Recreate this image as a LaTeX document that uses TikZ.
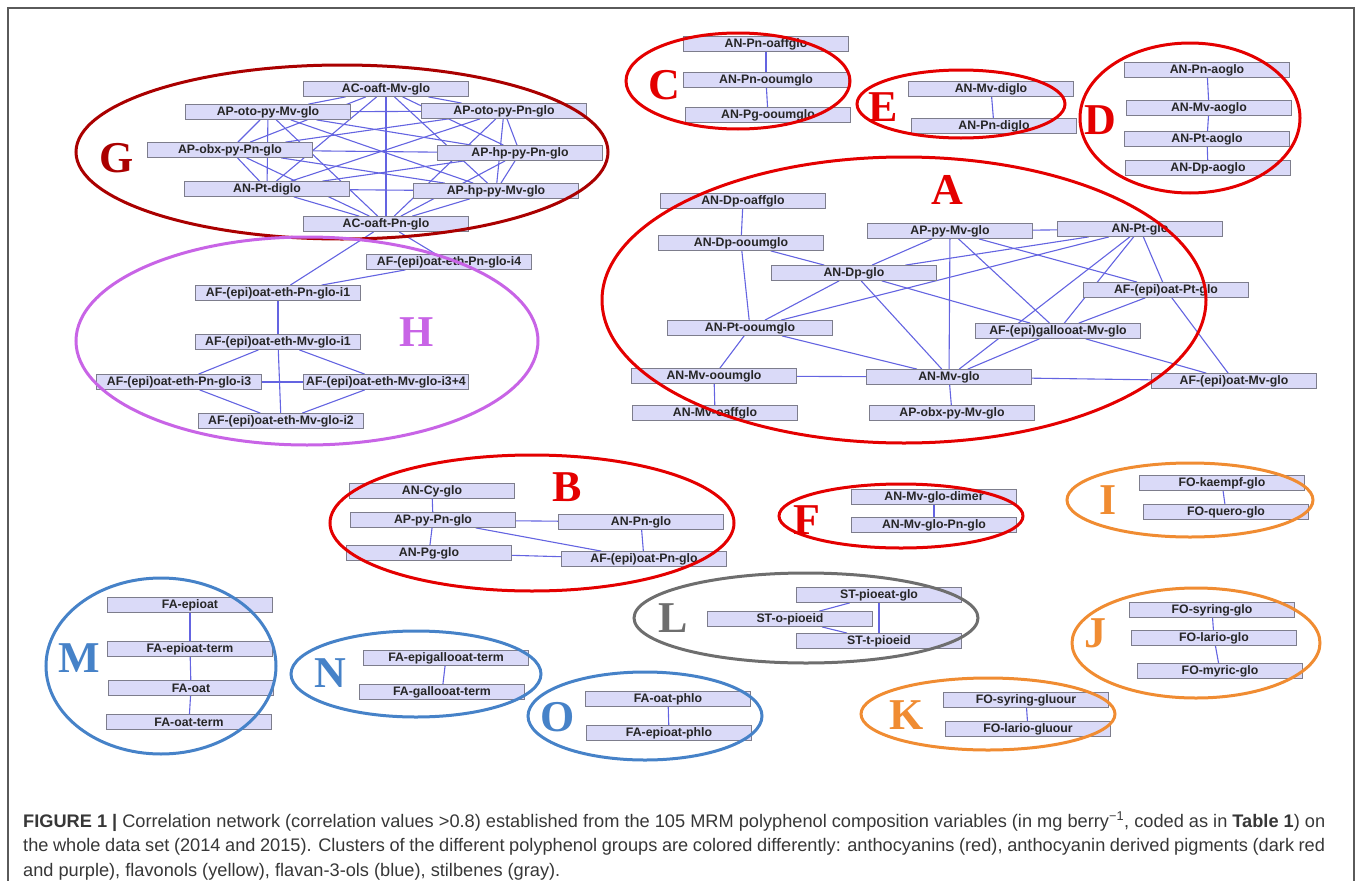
\documentclass[tikz,border=0pt]{standalone}
\usepackage{fontspec}
\setmainfont{Liberation Sans}
\newfontfamily\letterfont{Liberation Serif}
\pgfdeclarelayer{edgelayer}
\pgfsetlayers{edgelayer,main}
\definecolor{lav}{RGB}{218,218,248}
\definecolor{boxline}{RGB}{125,125,140}
\definecolor{edgec}{RGB}{100,100,225}
\definecolor{redc}{RGB}{228,0,0}
\definecolor{dred}{RGB}{170,0,0}
\definecolor{purp}{RGB}{200,100,230}
\definecolor{orng}{RGB}{240,140,50}
\definecolor{blu}{RGB}{70,130,200}
\definecolor{gry}{RGB}{110,110,110}
\definecolor{framec}{RGB}{90,90,90}
\definecolor{captc}{RGB}{55,55,55}
\begin{document}
\begin{tikzpicture}[x=1pt,y=-1pt,
  vbox/.style={draw=boxline, line width=0.8pt, fill=lav, minimum width=165pt, minimum height=15pt, inner sep=0pt, text=black!85, font=\fontsize{12.3}{12}\selectfont\bfseries},
  link/.style={draw=edgec, line width=1.1pt},
  ring/.style={line width=3pt},
  tag/.style={font=\letterfont\fontsize{44}{44}\selectfont\bfseries, inner sep=0pt},
  capline/.style={anchor=base west, inner sep=0pt, text=captc, font=\fontsize{18.2}{20}\selectfont}
]
\useasboundingbox (0,0) rectangle (1358,881);
\draw[framec, line width=1.5pt] (8,881) -- (8,8) -- (1354,8) -- (1354,881);

% ---------- G ----------
\node[vbox] (g1) at (386,89) {AC-oaft-Mv-glo};
\node[vbox] (g2) at (268,112) {AP-oto-py-Mv-glo};
\node[vbox] (g3) at (504,111) {AP-oto-py-Pn-glo};
\node[vbox] (g4) at (230,150) {AP-obx-py-Pn-glo};
\node[vbox] (g5) at (520,153) {AP-hp-py-Pn-glo};
\node[vbox] (g6) at (267,189) {AN-Pt-diglo};
\node[vbox] (g7) at (496,191) {AP-hp-py-Mv-glo};
\node[vbox] (g8) at (386,224) {AC-oaft-Pn-glo};
% ---------- H ----------
\node[vbox] (h1) at (449,262) {AF-(epi)oat-eth-Pn-glo-i4};
\node[vbox] (h2) at (278,293) {AF-(epi)oat-eth-Pn-glo-i1};
\node[vbox] (h3) at (278,342) {AF-(epi)oat-eth-Mv-glo-i1};
\node[vbox] (h4) at (179,382) {AF-(epi)oat-eth-Pn-glo-i3};
\node[vbox] (h5) at (386,382) {AF-(epi)oat-eth-Mv-glo-i3+4};
\node[vbox] (h6) at (281,421) {AF-(epi)oat-eth-Mv-glo-i2};
% ---------- C ----------
\node[vbox] (c1) at (766,44) {AN-Pn-oaffglo};
\node[vbox] (c2) at (766,80) {AN-Pn-ooumglo};
\node[vbox] (c3) at (768,115) {AN-Pg-ooumglo};
% ---------- E ----------
\node[vbox] (e1) at (991,89) {AN-Mv-diglo};
\node[vbox] (e2) at (994,126) {AN-Pn-diglo};
% ---------- D ----------
\node[vbox] (d1) at (1207,70) {AN-Pn-aoglo};
\node[vbox] (d2) at (1209,108) {AN-Mv-aoglo};
\node[vbox] (d3) at (1207,139) {AN-Pt-aoglo};
\node[vbox] (d4) at (1208,168) {AN-Dp-aoglo};
% ---------- A ----------
\node[vbox] (a1) at (743,201) {AN-Dp-oaffglo};
\node[vbox] (a2) at (741,243) {AN-Dp-ooumglo};
\node[vbox] (a3) at (950,231) {AP-py-Mv-glo};
\node[vbox] (a4) at (1140,229) {AN-Pt-glo};
\node[vbox] (a5) at (854,273) {AN-Dp-glo};
\node[vbox] (a6) at (1166,290) {AF-(epi)oat-Pt-glo};
\node[vbox] (a7) at (750,328) {AN-Pt-ooumglo};
\node[vbox] (a8) at (1058,331) {AF-(epi)gallooat-Mv-glo};
\node[vbox] (a9) at (714,376) {AN-Mv-ooumglo};
\node[vbox] (a10) at (949,377) {AN-Mv-glo};
\node[vbox] (a11) at (1234,381) {AF-(epi)oat-Mv-glo};
\node[vbox] (a12) at (715,413) {AN-Mv-oaffglo};
\node[vbox] (a13) at (952,413) {AP-obx-py-Mv-glo};
% ---------- B ----------
\node[vbox] (b1) at (432,491) {AN-Cy-glo};
\node[vbox] (b2) at (433,520) {AP-py-Pn-glo};
\node[vbox] (b3) at (641,522) {AN-Pn-glo};
\node[vbox] (b4) at (429,553) {AN-Pg-glo};
\node[vbox] (b5) at (644,559) {AF-(epi)oat-Pn-glo};
% ---------- F ----------
\node[vbox] (f1) at (934,497) {AN-Mv-glo-dimer};
\node[vbox] (f2) at (934,525) {AN-Mv-glo-Pn-glo};
% ---------- L ----------
\node[vbox] (l1) at (879,595) {ST-pioeat-glo};
\node[vbox] (l2) at (790,619) {ST-o-pioeid};
\node[vbox] (l3) at (879,641) {ST-t-pioeid};
% ---------- I ----------
\node[vbox] (i1) at (1222,483) {FO-kaempf-glo};
\node[vbox] (i2) at (1226,512) {FO-quero-glo};
% ---------- J ----------
\node[vbox] (j1) at (1212,610) {FO-syring-glo};
\node[vbox] (j2) at (1214,638) {FO-lario-glo};
\node[vbox] (j3) at (1220,671) {FO-myric-glo};
% ---------- K ----------
\node[vbox] (k1) at (1026,700) {FO-syring-gluour};
\node[vbox] (k2) at (1028,729) {FO-lario-gluour};
% ---------- M ----------
\node[vbox] (m1) at (190,605) {FA-epioat};
\node[vbox] (m2) at (190,649) {FA-epioat-term};
\node[vbox] (m3) at (191,688) {FA-oat};
\node[vbox] (m4) at (189,722) {FA-oat-term};
% ---------- N ----------
\node[vbox] (n1) at (446,658) {FA-epigallooat-term};
\node[vbox] (n2) at (442,692) {FA-gallooat-term};
% ---------- O ----------
\node[vbox] (o1) at (668,699) {FA-oat-phlo};
\node[vbox] (o2) at (669,733) {FA-epioat-phlo};

% ---------- connectors ----------
\begin{pgfonlayer}{edgelayer}
\foreach \i in {1,...,7}{
  \pgfmathtruncatemacro\nxt{\i+1}
  \foreach \k in {\nxt,...,8}{\draw[link] (g\i) -- (g\k);}
}
\foreach \p/\q in {g8/h2, g8/h1, h1/h2, h2/h3, h3/h4, h3/h5, h3/h6, h4/h5, h4/h6, h5/h6,
  c1/c2, c2/c3, e1/e2, d1/d2, d2/d3, d3/d4,
  a1/a2, a2/a7, a2/a5, a3/a4, a3/a5, a3/a10, a3/a8, a3/a6, a4/a5, a4/a7, a4/a8, a4/a10, a4/a6,
  a6/a11, a5/a7, a5/a10, a5/a8, a7/a9, a7/a10, a9/a10, a9/a12, a10/a13, a10/a11, a8/a6, a8/a11, a8/a10,
  b1/b2, b2/b3, b2/b4, b2/b5, b4/b5, b3/b5,
  f1/f2, l2/l1, l2/l3, l1/l3, i1/i2, j1/j2, j2/j3, k1/k2,
  m1/m2, m2/m3, m3/m4, n1/n2, o1/o2}
  {\draw[link] (\p) -- (\q);}
\end{pgfonlayer}

% ---------- cluster outlines ----------
\draw[ring, dred] (342,152) ellipse [x radius=266, y radius=87];
\draw[ring, purp] (307,341) ellipse [x radius=231, y radius=104];
\draw[ring, redc] (738,81) ellipse [x radius=112, y radius=48];
\draw[ring, redc] (961,104) ellipse [x radius=104, y radius=34];
\draw[ring, redc] (1190,118) ellipse [x radius=110, y radius=75];
\draw[ring, redc] (904,300) ellipse [x radius=302, y radius=143];
\draw[ring, redc] (532,523) ellipse [x radius=202, y radius=68];
\draw[ring, redc] (901,516) ellipse [x radius=122, y radius=32];
\draw[ring, gry] (806,618) ellipse [x radius=172, y radius=45];
\draw[ring, orng] (1190,500) ellipse [x radius=123, y radius=37];
\draw[ring, orng] (1196,643) ellipse [x radius=124, y radius=55];
\draw[ring, orng] (988,714) ellipse [x radius=127, y radius=36];
\draw[ring, blu] (161,666) ellipse [x radius=115, y radius=88];
\draw[ring, blu] (416,674) ellipse [x radius=125, y radius=43];
\draw[ring, blu] (645,716) ellipse [x radius=117, y radius=44];

% ---------- cluster letters ----------
\node[tag, text=dred] (tG) at (117,158) {G};
\node[tag, text=purp] (tH) at (417,332) {H};
\node[tag, text=redc] (tC) at (664,85) {C};
\node[tag, text=redc] (tE) at (883,107) {E};
\node[tag, text=redc] (tD) at (1100,120) {D};
\node[tag, text=redc] (tA) at (947,190) {A};
\node[tag, text=redc] (tB) at (567,487) {B};
\node[tag, text=redc] (tF) at (807,520) {F};
\node[tag, text=gry] (tL) at (673,618) {L};
\node[tag, text=orng] (tI) at (1108,500) {I};
\node[tag, text=orng] (tJ) at (1095,633) {J};
\node[tag, text=orng] (tK) at (907,715) {K};
\node[tag, text=blu] (tM) at (79,658) {M};
\node[tag, text=blu] (tN) at (330,673) {N};
\node[tag, text=blu] (tO) at (558,717) {O};

% ---------- caption ----------
\node[capline] (cap1) at (23,827) {\makebox[1302pt][s]{\textbf{FIGURE 1 |} Correlation network (correlation values >0.8) established from the 105 MRM polyphenol composition variables (in mg berry\textsuperscript{−1}, coded as in \textbf{Table 1}) on}};
\node[capline] (cap2) at (23,851.5) {\makebox[1302pt][s]{the whole data set (2014 and 2015). Clusters of the different polyphenol groups are colored differently: anthocyanins (red), anthocyanin derived pigments (dark red}};
\node[capline] (cap3) at (23,876) {and purple), flavonols (yellow), flavan-3-ols (blue), stilbenes (gray).};
\end{tikzpicture}
\end{document}
